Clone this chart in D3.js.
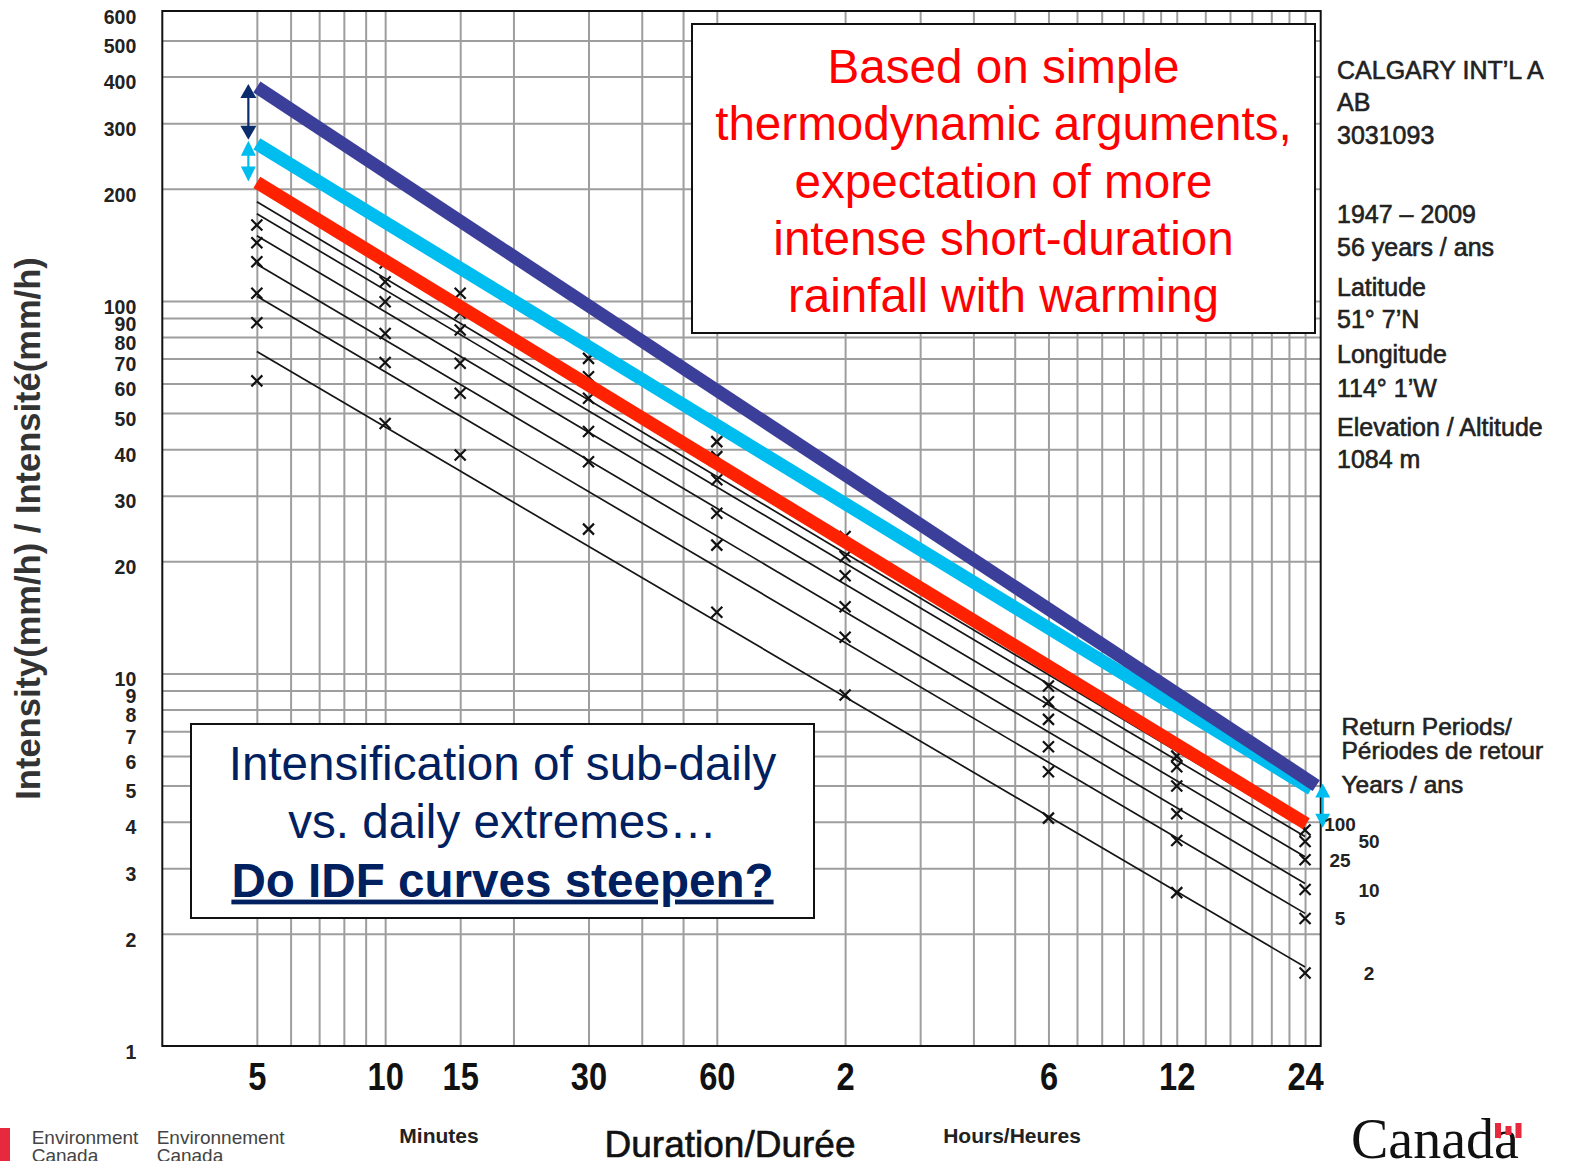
<!DOCTYPE html>
<html>
<head>
<meta charset="utf-8">
<script src="https://cdn.jsdelivr.net/npm/d3@7"></script>
<style>
  body { margin: 0; background: #fff; }
  svg { display: block; font-family: "Liberation Sans", Arial, sans-serif; }
</style>
</head>
<body>
<svg id="chart" width="1579" height="1161"></svg>
<script>
// durations (minutes) where the annual maxima were plotted
let durations = [5, 10, 15, 30, 60, 120, 360, 720, 1440];
let returnPeriods = [2, 5, 10, 25, 50, 100];

// observed intensities (mm/h) per return period, one value per duration
let obs_2yr   = [61.0, 46.9, 38.6, 24.4, 14.6, 8.75, 4.09, 2.58, 1.57];
let obs_5yr   = [87.4, 68.3, 56.5, 37.0, 22.1, 12.5, 5.45, 3.56, 2.20];
let obs_10yr  = [104.8, 81.8, 68.0, 44.6, 26.9, 15.1, 6.36, 4.20, 2.63];
let obs_25yr  = [127.4, 99.5, 83.5, 54.8, 33.1, 18.3, 7.53, 4.99, 3.16];
let obs_50yr  = [143.3, 112.6, 92.8, 62.6, 38.2, 20.6, 8.40, 5.62, 3.54];
let obs_100yr = [159.8, 126.4, 104.8, 70.1, 41.9, 23.3, 9.25, 6.00, 3.80];

// fitted IDF lines, value at 5 min and at 24 h
let fit_5min = [73.1, 102.9, 125.4, 149.6, 171.4, 184.6];
let fit_24h  = [1.63, 2.27, 2.73, 3.22, 3.65, 3.85];

// the three "steepened" curves: red (today), cyan, purple
let trend_names = ["current", "warmer", "warmest"];
let trend_start = [208, 264, 375];       // at 5 min
let trend_end_dur = [1450, 1490, 1530];  // minutes
let trend_end = [3.95, 4.9, 5.0];

// grid and tick values
let xGrid = [5, 6, 7, 8, 9, 10, 15, 20, 30, 40, 50, 60, 120, 180, 240, 300, 360, 420,
  480, 540, 600, 660, 720, 840, 960, 1080, 1200, 1320, 1440];
let yGrid = [2, 3, 4, 5, 6, 7, 8, 9, 10, 20, 30, 40, 50, 60, 70, 80, 90, 100, 200, 300, 400, 500];
let xTicks = [5, 10, 15, 30, 60, 120, 360, 720, 1440];
let xTickLabels = ["5", "10", "15", "30", "60", "2", "6", "12", "24"];
let yTicks = [1, 2, 3, 4, 5, 6, 7, 8, 9, 10, 20, 30, 40, 50, 60, 70, 80, 90, 100, 200, 300, 400, 500, 600];

let stationInfo = ["CALGARY INT\u2019L A", "AB", "3031093", null, "1947 \u2013 2009", "56 years / ans",
  "Latitude", "51\u00b0  7\u2019N", "Longitude", "114\u00b0 1\u2019W", "Elevation / Altitude", "1084 m"];

let trend_colors = ["#ff2200", "#00bdf0", "#3c3f9a"];

let svg = d3.select("#chart");
let pLeft = 162.3, pRight = 1320.7, pTop = 11, pBottom = 1046;

let x = d3.scaleLog().domain([3, 1567]).range([pLeft, pRight]);
let y = d3.scaleLog().domain([1, 600]).range([pBottom, pTop]);

svg.append("rect").attr("width", 1579).attr("height", 1161).attr("fill", "#fff");

// grid lines
let gx = svg.append("g").attr("transform", "translate(0," + pBottom + ")")
  .call(d3.axisBottom(x).tickValues(xGrid).tickSize(-(pBottom - pTop)).tickFormat(""));
let gy = svg.append("g").attr("transform", "translate(" + pLeft + ",0)")
  .call(d3.axisLeft(y).tickValues(yGrid).tickSize(-(pRight - pLeft)).tickFormat(""));
[gx, gy].forEach(g => {
  g.select(".domain").remove();
  g.selectAll("line").attr("stroke", "#9e9e9e").attr("stroke-width", 2);
});

// frame
svg.append("rect").attr("x", pLeft).attr("y", pTop)
  .attr("width", pRight - pLeft).attr("height", pBottom - pTop)
  .attr("fill", "none").attr("stroke", "#111").attr("stroke-width", 2);

// y tick labels
let ay = svg.append("g").attr("transform", "translate(" + pLeft + ",0)")
  .call(d3.axisLeft(y).tickValues(yTicks).tickSize(0).tickPadding(26).tickFormat(d3.format("d")));
ay.select(".domain").remove();
ay.selectAll("text").attr("y", 6).attr("font-size", 19.5).attr("font-weight", "bold")
  .attr("fill", "#222").attr("font-family", "'Liberation Sans', Arial, sans-serif");

// x tick labels (narrow bold)
let ax = svg.append("g").attr("transform", "translate(0," + pBottom + ")")
  .call(d3.axisBottom(x).tickValues(xTicks).tickSize(0)
    .tickFormat((d, i) => xTickLabels[i]));
ax.select(".domain").remove();
ax.selectAll("text").attr("y", 44).attr("dy", 0).attr("font-size", 38).attr("font-weight", "bold")
  .attr("fill", "#111").attr("transform", "scale(0.86,1)")
  .attr("font-family", "'Liberation Sans', Arial, sans-serif");

// fitted thin lines
let obs = [obs_2yr, obs_5yr, obs_10yr, obs_25yr, obs_50yr, obs_100yr];
let line = d3.line().x(d => x(d[0])).y(d => y(d[1]));
returnPeriods.forEach((rp, i) => {
  svg.append("path")
    .attr("d", line([[5, fit_5min[i]], [1440, fit_24h[i]]]))
    .attr("stroke", "#151515").attr("stroke-width", 1.7).attr("fill", "none");
});

// observed points as crosses
returnPeriods.forEach((rp, i) => {
  svg.append("g").selectAll("path").data(durations).join("path")
    .attr("transform", (d, j) => "translate(" + x(d) + "," + y(obs[i][j]) + ")")
    .attr("d", "M-5.5,-5.5L5.5,5.5M-5.5,5.5L5.5,-5.5")
    .attr("stroke", "#111").attr("stroke-width", 2.2).attr("fill", "none");
});

// thick trend lines
trend_names.forEach((n, i) => {
  svg.append("path")
    .attr("d", line([[5, trend_start[i]], [trend_end_dur[i], trend_end[i]]]))
    .attr("stroke", trend_colors[i]).attr("stroke-width", 13).attr("fill", "none");
});

// double headed arrows between the trend lines
function drawArrow(xp, y1, y2, color, hw, hh) {
  let g = svg.append("g");
  g.append("line").attr("x1", xp).attr("x2", xp).attr("y1", y1 + hh - 1).attr("y2", y2 - hh + 1)
    .attr("stroke", color).attr("stroke-width", 2.2);
  g.append("path").attr("d", "M" + xp + "," + y1 + "L" + (xp + hw / 2) + "," + (y1 + hh)
    + "L" + (xp - hw / 2) + "," + (y1 + hh) + "Z").attr("fill", color);
  g.append("path").attr("d", "M" + xp + "," + y2 + "L" + (xp + hw / 2) + "," + (y2 - hh)
    + "L" + (xp - hw / 2) + "," + (y2 - hh) + "Z").attr("fill", color);
}
let ax5 = x(5) - 8.5;
drawArrow(ax5, y(trend_start[2]) - 3, y(trend_start[1]) - 4, "#0b2d6b", 16, 14);
drawArrow(ax5, y(trend_start[1]) - 3, y(trend_start[0]) - 1, trend_colors[1], 15, 15);
drawArrow(pRight + 2, y(trend_end[2]) - 2, y(trend_end[0]) + 4, trend_colors[1], 15, 14);

// annotation boxes
function textBox(bx, by, bw, bh) {
  svg.append("rect").attr("x", bx).attr("y", by).attr("width", bw).attr("height", bh)
    .attr("fill", "#fff").attr("stroke", "#111").attr("stroke-width", 2);
}
textBox(692, 24, 623, 309);
let redLines = ["Based on simple", "thermodynamic arguments,", "expectation of more",
  "intense short-duration", "rainfall with warming"];
redLines.forEach((t, i) => {
  svg.append("text").attr("x", 1003.5).attr("y", 83 + i * 57.3).attr("text-anchor", "middle")
    .attr("font-size", 47.6).attr("fill", "#ff0000").text(t);
});

textBox(191, 724, 623, 194);
let blueLines = ["Intensification of sub-daily", "vs. daily extremes\u2026", "Do IDF curves steepen?"];
blueLines.forEach((t, i) => {
  let el = svg.append("text").attr("x", 502.5).attr("y", 780 + i * 58.3).attr("text-anchor", "middle")
    .attr("font-size", 47.6).attr("fill", "#002060").text(t);
  if(i == 2) el.attr("font-weight", "bold").attr("text-decoration", "underline");
});

// station info on the right
let infoY = [79.3, 111, 144.3, null, 222.7, 256, 296, 328.3, 363.3, 396.7, 436, 468.3];
stationInfo.forEach((t, i) => {
  if(t == null) return;
  svg.append("text").attr("x", 1337).attr("y", infoY[i]).attr("font-size", 25)
    .attr("fill", "#222").attr("stroke", "#222").attr("stroke-width", 0.6).text(t);
});
["Return Periods/", "P\u00e9riodes de retour"].forEach((t, i) => {
  svg.append("text").attr("x", 1341.5).attr("y", 735 + i * 23.5).attr("font-size", 24.5)
    .attr("fill", "#222").attr("stroke", "#222").attr("stroke-width", 0.6).text(t);
});
svg.append("text").attr("x", 1341.5).attr("y", 793).attr("font-size", 24.5)
  .attr("fill", "#222").attr("stroke", "#222").attr("stroke-width", 0.6).text("Years / ans");

// return period labels next to the 24 h points
returnPeriods.forEach((rp, i) => {
  let yy = y(obs[i][durations.length - 1]) + (rp == 100 ? -5 : 1);
  svg.append("text").attr("x", i % 2 == 0 ? 1369 : 1340).attr("y", yy + 6)
    .attr("text-anchor", "middle").attr("font-size", 19).attr("font-weight", "bold")
    .attr("fill", "#222").text(rp);
});

// axis titles
svg.append("text").attr("transform", "translate(40,528.5) rotate(-90)")
  .attr("text-anchor", "middle").attr("font-size", 34.5).attr("font-weight", "bold")
  .attr("fill", "#333").text("Intensity(mm/h) / Intensit\u00e9(mm/h)");
svg.append("text").attr("x", 439).attr("y", 1142.5).attr("text-anchor", "middle")
  .attr("font-size", 21).attr("font-weight", "bold").attr("fill", "#222").text("Minutes");
svg.append("text").attr("x", 1012).attr("y", 1142.5).attr("text-anchor", "middle")
  .attr("font-size", 21).attr("font-weight", "bold").attr("fill", "#222").text("Hours/Heures");
svg.append("text").attr("x", 730).attr("y", 1157).attr("text-anchor", "middle")
  .attr("font-size", 37).attr("fill", "#111").attr("stroke", "#111").attr("stroke-width", 0.6)
  .text("Duration/Dur\u00e9e");

// footer: government signature and wordmark
svg.append("rect").attr("x", 0).attr("y", 1128).attr("width", 10).attr("height", 33).attr("fill", "#e8283c");
[["Environment", "Canada", 31.7], ["Environnement", "Canada", 156.7]].forEach(d => {
  svg.append("text").attr("x", d[2]).attr("y", 1143.5).attr("font-size", 19).attr("fill", "#444").text(d[0]);
  svg.append("text").attr("x", d[2]).attr("y", 1162).attr("font-size", 19).attr("fill", "#444").text(d[1]);
});
svg.append("text").attr("x", 1351).attr("y", 1158).attr("font-size", 56)
  .attr("font-family", "'Liberation Serif', 'DejaVu Serif', serif").attr("fill", "#111").text("Canada");
let flag = svg.append("g").attr("fill", "#e8283c");
flag.append("rect").attr("x", 1495).attr("y", 1123).attr("width", 6).attr("height", 15);
flag.append("rect").attr("x", 1515.5).attr("y", 1123).attr("width", 6).attr("height", 15);
flag.append("rect").attr("x", 1505.5).attr("y", 1126).attr("width", 6).attr("height", 9);
</script>
</body>
</html>
